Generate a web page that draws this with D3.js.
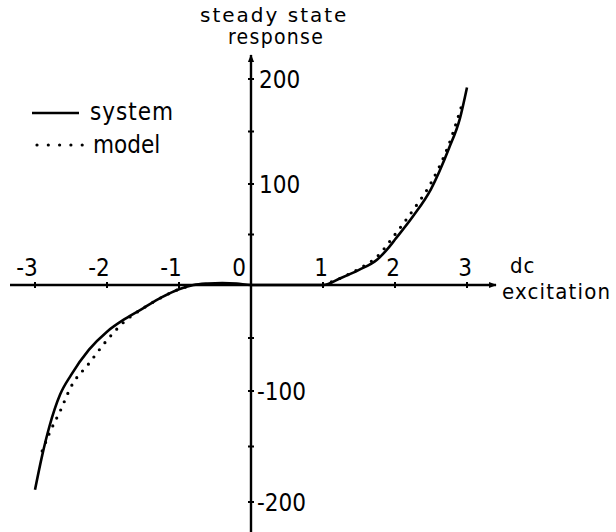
<!DOCTYPE html>
<html>
<head>
<meta charset="utf-8">
<script src="https://cdn.jsdelivr.net/npm/d3@7"></script>
<style>
  html, body { margin: 0; padding: 0; background: #fff; }
  svg { display: block; }
  text { font-family: "DejaVu Sans Condensed", "DejaVu Sans", sans-serif; font-stretch: condensed; fill: #000; }
  text.wide { font-family: "DejaVu Sans", sans-serif; font-stretch: normal; }
</style>
</head>
<body>
<svg id="chart" width="616" height="532"></svg>
<script>
// dc excitation (x) against steady state response (y)
const xTicks = [-3, -2, -1, 0, 1, 2, 3];
const xTickLabels = ["-3", "-2", "-1", "0", "1", "2", "3"];
const yTicks = [-200, -150, -100, -50, 50, 100, 150, 200];
const yLabelTicks = [200, 100, -100, -200];
const yTickLabels = ["200", "100", "-100", "-200"];

// measured system response
const systemX = [-3.0, -2.9, -2.8, -2.65, -2.5, -2.25, -2.0, -1.75, -1.5, -1.25, -1.0, -0.8, -0.6, -0.4, -0.2, 0, 0.5, 1.0, 1.25, 1.5, 1.75, 1.9, 2.0, 2.25, 2.5, 2.75, 2.9, 3.0];
const systemY = [-189, -158, -132, -103, -85, -61, -44, -32, -22, -12, -4, 0, 1.5, 2, 1.5, 0, 0, 0, 7, 15, 25, 36, 45, 68, 95, 134, 162, 192];

// model prediction
const modelX = [-2.9, -2.8, -2.65, -2.5, -2.25, -2.0, -1.75, -1.5, -1.25, -1.0, -0.8, 1.0, 1.25, 1.5, 1.75, 2.0, 2.25, 2.5, 2.75, 2.95];
const modelY = [-154, -138, -118, -96, -74, -52, -34, -22, -12, -4, 0, 0, 7, 16, 28, 50, 74, 101, 138, 180];

const legendLabels = ["system", "model"];

const svg = d3.select("#chart");
const x = d3.scaleLinear().domain([-3, 3]).range([35, 467]);
const y = d3.scaleLinear().domain([-200, -100, 0, 100, 200]).range([502, 391, 285, 184, 79]);

const x0 = x(0), y0 = y(0);

// arrow head marker
const defs = svg.append("defs");
defs.append("marker")
  .attr("id", "arrow").attr("viewBox", "0 0 10 10")
  .attr("refX", 9).attr("refY", 5)
  .attr("markerWidth", 5).attr("markerHeight", 3.2)
  .attr("orient", "auto")
  .append("path").attr("d", "M0,1 L10,5 L0,9 Z").attr("fill", "#000");

// horizontal axis through y = 0
svg.append("line")
  .attr("x1", 10).attr("x2", 496).attr("y1", y0).attr("y2", y0)
  .attr("stroke", "#000").attr("stroke-width", 2.4)
  .attr("marker-end", "url(#arrow)");

// vertical axis through x = 0
svg.append("line")
  .attr("x1", x0).attr("x2", x0).attr("y1", 532).attr("y2", 55)
  .attr("stroke", "#000").attr("stroke-width", 2.4)
  .attr("marker-end", "url(#arrow)");

// x ticks
svg.append("g").selectAll("line").data(xTicks.filter(d => d !== 0)).join("line")
  .attr("x1", d => x(d)).attr("x2", d => x(d))
  .attr("y1", y0 - 3).attr("y2", y0 + 3)
  .attr("stroke", "#000").attr("stroke-width", 2);

svg.append("g").selectAll("text").data(xTicks).join("text")
  .attr("x", d => d === 0 ? x0 - 5 : x(d) + (d < 0 ? -8 : -2))
  .attr("y", 276)
  .attr("text-anchor", d => d === 0 ? "end" : "middle")
  .attr("font-size", 24)
  .text((d, i) => xTickLabels[i]);

// y ticks
svg.append("g").selectAll("line").data(yTicks).join("line")
  .attr("x1", x0 - 3).attr("x2", x0 + 3)
  .attr("y1", d => y(d)).attr("y2", d => y(d))
  .attr("stroke", "#000").attr("stroke-width", 2);

svg.append("g").selectAll("text").data(yLabelTicks).join("text")
  .attr("x", d => d < 0 ? x0 + 6 : x0 + 8)
  .attr("y", d => y(d) + 9)
  .attr("font-size", 24)
  .text((d, i) => yTickLabels[i]);

// axis titles
svg.append("text").attr("class", "wide").attr("x", 200).attr("y", 22)
  .attr("font-size", 20).attr("letter-spacing", 2).text("steady state");
svg.append("text").attr("x", 228).attr("y", 44)
  .attr("font-size", 21).attr("letter-spacing", 1.3).text("response");
svg.append("text").attr("x", 510).attr("y", 273).attr("font-size", 22).attr("letter-spacing", 1).text("dc");
svg.append("text").attr("x", 502).attr("y", 299).attr("font-size", 22).attr("letter-spacing", 1.2).text("excitation");

// curves
const line = d3.line().x(d => x(d[0])).y(d => y(d[1])).curve(d3.curveMonotoneX);

const sysPts = systemX.map((v, i) => [v, systemY[i]]);
svg.append("path").attr("d", line(sysPts))
  .attr("fill", "none").attr("stroke", "#000").attr("stroke-width", 2.6);

const modelPts = modelX.map((v, i) => [v, modelY[i]]);
const modelNeg = modelPts.filter(d => d[0] < 0);
const modelPos = modelPts.filter(d => d[0] > 0);
[modelNeg, modelPos].forEach(seg => {
  svg.append("path").attr("d", line(seg))
    .attr("fill", "none").attr("stroke", "#000").attr("stroke-width", 3.2)
    .attr("stroke-linecap", "round").attr("stroke-dasharray", "0 9");
});

// legend
const lg = svg.append("g");
lg.append("line").attr("x1", 32).attr("x2", 79).attr("y1", 113).attr("y2", 113)
  .attr("stroke", "#000").attr("stroke-width", 2.4);
lg.append("text").attr("x", 90).attr("y", 120).attr("font-size", 24).attr("letter-spacing", 1).text(legendLabels[0]);
lg.append("line").attr("x1", 37).attr("x2", 83).attr("y1", 145).attr("y2", 145)
  .attr("stroke", "#000").attr("stroke-width", 3.2)
  .attr("stroke-linecap", "round").attr("stroke-dasharray", "0 11.3");
lg.append("text").attr("x", 93).attr("y", 153).attr("font-size", 24).text(legendLabels[1]);
</script>
</body>
</html>
